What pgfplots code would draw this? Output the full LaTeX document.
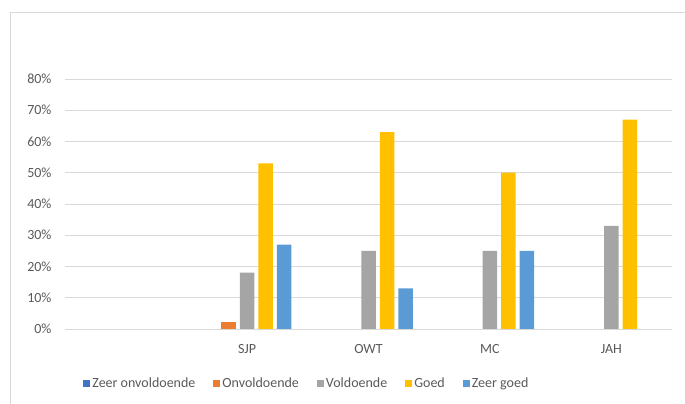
\documentclass[border=0pt]{standalone}
\usepackage{pgfplots}
\pgfplotsset{compat=1.18}
\usepackage{fontspec}
\setmainfont{Carlito}
\definecolor{zon}{HTML}{4472C4}
\definecolor{onv}{HTML}{ED7D31}
\definecolor{vol}{HTML}{A5A5A5}
\definecolor{goed}{HTML}{FFC000}
\definecolor{zgoed}{HTML}{5B9BD5}
\definecolor{txt}{HTML}{595959}
\definecolor{grid}{HTML}{D9D9D9}
\begin{document}
\begin{tikzpicture}[x=1pt,y=1pt]
  \useasboundingbox (0,0) rectangle (685,404);
  % frame of the chart area, cut off at right and bottom
  \draw[grid, line width=0.8pt] (10,0) -- (10,392) -- (685,392);
  \begin{axis}[
      at={(65pt,75pt)}, anchor=south west,
      scale only axis,
      width=607pt, height=250pt,
      ybar=4pt, bar width=14.5pt,
      xmin=-0.5, xmax=4.5,
      ymin=0, ymax=80,
      xtick={1,2,3,4},
      xticklabels={SJP,OWT,MC,JAH},
      ytick={0,10,...,80},
      yticklabel={\pgfmathprintnumber{\tick}\%},
      /pgf/number format/assume math mode=true,
      ymajorgrids,
      major grid style={draw=grid, line width=0.8pt},
      axis x line*=bottom,
      axis y line*=left,
      y axis line style={draw=none},
      x axis line style={draw=grid, line width=0.8pt},
      tickwidth=0pt,
      ticklabel style={font=\fontsize{14}{16}\selectfont, text=txt},
      xticklabel style={yshift=-12pt},
      yticklabel style={xshift=-10pt},
      legend style={
          at={(0.03,-0.216)}, anchor=west,
          draw=none, fill=none,
          font=\fontsize{14}{16}\selectfont, text=txt,
          legend columns=-1,
          /tikz/every even column/.append style={column sep=16pt},
          inner sep=0pt,
      },
      legend image code/.code={\fill[#1] (0pt,-3.5pt) rectangle (7pt,3.5pt);},
    ]
    % Zeer onvoldoende: 0% everywhere, only its legend entry is seen
    \addplot[draw=none, fill=none,
      legend image code/.code={\fill[zon] (0pt,-3.5pt) rectangle (7pt,3.5pt);}]
      coordinates {(1,0)};
    \addplot[draw=none, fill=onv] coordinates {(1,2.2)};
    \addplot[draw=none, fill=vol] coordinates {(1,18) (2,25) (3,25) (4,33)};
    \addplot[draw=none, fill=goed] coordinates {(1,53) (2,63) (3,50) (4,67)};
    \addplot[draw=none, fill=zgoed] coordinates {(1,27) (2,13) (3,25)};
    \legend{Zeer onvoldoende, Onvoldoende, Voldoende, Goed, Zeer goed}
  \end{axis}
\end{tikzpicture}
\end{document}
